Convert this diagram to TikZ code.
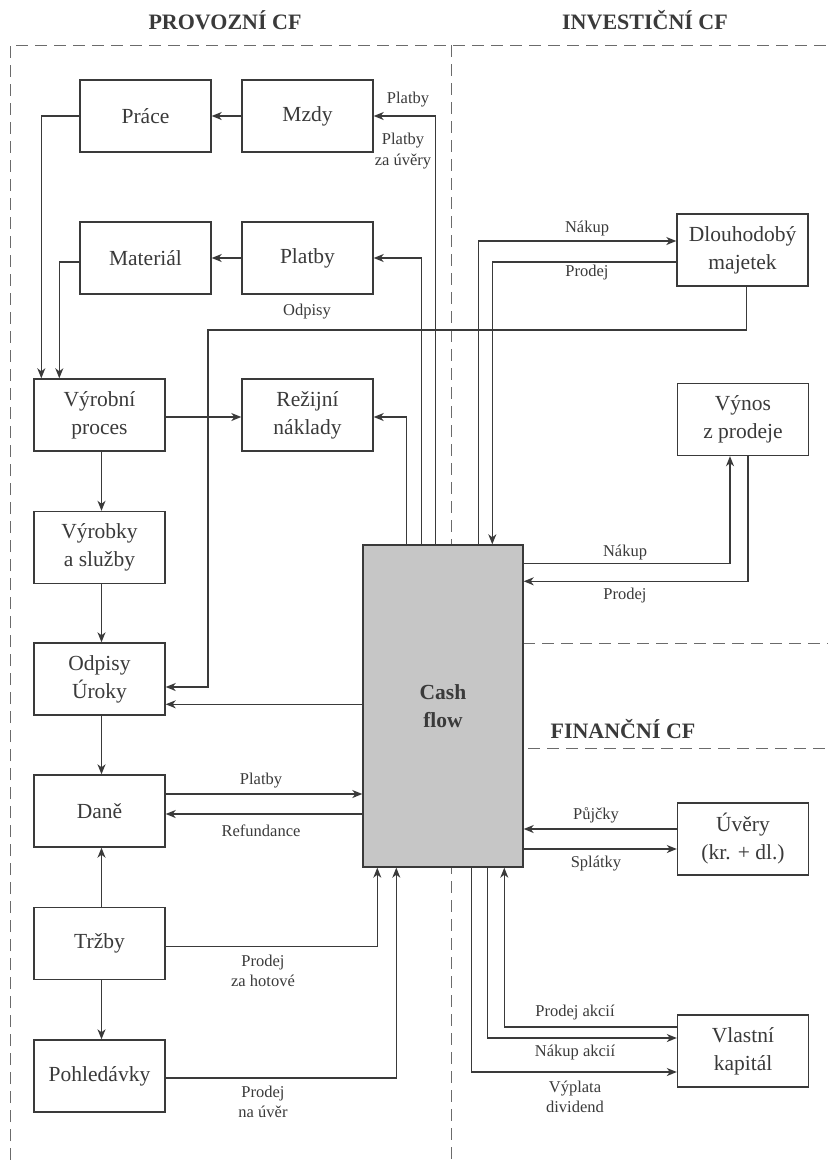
\documentclass[tikz,border=0pt]{standalone}
\usepackage{fontspec}
\setmainfont{Liberation Serif}
\usetikzlibrary{arrows.meta,calc}
\definecolor{ink}{HTML}{3A3A3A}
\definecolor{cashgray}{HTML}{C6C6C6}
\begin{document}
\begin{tikzpicture}[x=1bp,y=-1bp,
  box/.style={draw=ink, line width=1.4bp, minimum width=131bp, minimum height=72bp, inner sep=0pt, align=center, text=ink, font=\fontsize{21.5bp}{28bp}\selectfont},
  lbl/.style={text=ink, align=center, inner sep=0pt, font=\fontsize{16.5bp}{20.5bp}\selectfont},
  hdr/.style={text=ink, inner sep=0pt, font=\fontsize{22bp}{26bp}\selectfont\bfseries},
  arr/.style={draw=ink, line width=1.2bp, -{Stealth[length=10bp,width=8bp,inset=3bp]}},
  zone/.style={draw=ink!75, line width=1bp, dash pattern=on 12bp off 7bp}]
\useasboundingbox[fill=white] (0,0) rectangle (828,1160);

% zone borders
\draw[zone] (10,1160) -- (10,45) -- (828,45);
\draw[zone] (451,45) -- (451,1160);
\draw[zone] (523,643) -- (828,643);
\draw[zone] (528,748) -- (828,748);

% headers
\node[hdr] (hprov) at (225,20) {PROVOZNÍ CF};
\node[hdr] (hinv) at (645,20) {INVESTIČNÍ CF};
\node[hdr] (hfin) at (623,729) {FINANČNÍ CF};

% boxes
\node[box] (prace) at (145.5,116) {Práce};
\node[box] (mzdy) at (307.5,116) {Mzdy};
\node[box] (material) at (145.5,258) {Materiál};
\node[box] (platbyb) at (307.5,258) {Platby};
\node[box] (dlouh) at (742.5,250) {Dlouhodobý\\majetek};
\node[box] (vyrobni) at (99.5,415) {Výrobní\\proces};
\node[box] (rezijni) at (307.5,415) {Režijní\\náklady};
\node[box] (vynos) at (743,419.5) {Výnos\\z prodeje};
\node[box] (vyrobky) at (99.5,547.5) {Výrobky\\a služby};
\node[box] (odpisy) at (99.5,679) {Odpisy\\Úroky};
\node[box] (dane) at (99.5,811) {Daně};
\node[box] (trzby) at (99.5,943.5) {Tržby};
\node[box] (pohl) at (99.5,1076) {Pohledávky};
\node[box] (uvery) at (743,839) {Úvěry\\(kr. + dl.)};
\node[box] (vlastni) at (743,1051) {Vlastní\\kapitál};
\node[box, fill=cashgray, minimum width=160bp, minimum height=322bp, font=\fontsize{21.5bp}{28bp}\selectfont\bfseries] (cash) at (443,706) {Cash\\flow};

% operating connectors
\draw[arr] (mzdy.west) -- (prace.east);
\draw[arr] (prace.west) -| ($(vyrobni.north west)+(8,0)$);
\draw[arr] (platbyb.west) -- (material.east);
\draw[arr] ($(material.west)+(0,4)$) -| ($(vyrobni.north west)+(26,0)$);
\draw[arr] ($(cash.north west)+(73,0)$) |- (mzdy.east);
\draw[arr] ($(cash.north west)+(59,0)$) |- (platbyb.east);
\draw[arr] ($(cash.north west)+(44,0)$) |- ($(rezijni.east)+(0,2)$);
\draw[arr] ($(vyrobni.east)+(0,2)$) -- ($(rezijni.west)+(0,2)$);
\draw[arr] ($(dlouh.south)+(4,0)$) |- (208,330) |- ($(odpisy.east)+(0,8)$);
\draw[arr] ($(cash.north west)+(0,160)$) coordinate (t1) -- (t1 -| odpisy.east);
\draw[arr] ($(vyrobni.south)+(2,0)$) -- ($(vyrobky.north)+(2,0)$);
\draw[arr] ($(vyrobky.south)+(2,0)$) -- ($(odpisy.north)+(2,0)$);
\draw[arr] ($(odpisy.south)+(2,0)$) -- ($(dane.north)+(2,0)$);
\draw[arr] ($(dane.east)+(0,-17)$) coordinate (t2) -- (t2 -| cash.west);
\coordinate (t3) at ($(dane.east)+(0,3)$);
\draw[arr] (t3 -| cash.west) -- (t3);
\draw[arr] ($(trzby.north)+(2,0)$) -- ($(dane.south)+(2,0)$);
\draw[arr] ($(trzby.south)+(2,0)$) -- ($(pohl.north)+(2,0)$);
\draw[arr] ($(trzby.east)+(0,3)$) -| ($(cash.south west)+(15,0)$);
\draw[arr] ($(pohl.east)+(0,2)$) -| ($(cash.south west)+(34,0)$);

% investing connectors
\draw[arr] ($(cash.north west)+(116,0)$) |- ($(dlouh.west)+(0,-9)$);
\draw[arr] ($(dlouh.west)+(0,12)$) -| ($(cash.north west)+(130,0)$);
\draw[arr] ($(cash.north east)+(0,19)$) -| ($(vynos.south)+(-13,0)$);
\draw[arr] ($(vynos.south)+(5,0)$) |- ($(cash.north east)+(0,37)$);

% financing connectors
\draw[arr] ($(uvery.west)+(0,-10)$) coordinate (t4) -- (t4 -| cash.east);
\coordinate (t5) at ($(uvery.west)+(0,10)$);
\draw[arr] (t5 -| cash.east) -- (t5);
\draw[arr] ($(vlastni.west)+(0,-24)$) -| ($(cash.south west)+(142,0)$);
\draw[arr] ($(cash.south west)+(125,0)$) |- ($(vlastni.west)+(0,-13)$);
\draw[arr] ($(cash.south west)+(109,0)$) |- ($(vlastni.west)+(0,21)$);

% labels
\node[lbl] (l1) at (408,100) {Platby};
\node[lbl] (l2) at (403,151) {Platby\\za úvěry};
\node[lbl] (l3) at (307,312) {Odpisy};
\node[lbl] (l4) at (587,229) {Nákup};
\node[lbl] (l5) at (587,273) {Prodej};
\node[lbl] (l6) at (625,553) {Nákup};
\node[lbl] (l7) at (625,596) {Prodej};
\node[lbl] (l8) at (261,781) {Platby};
\node[lbl] (l9) at (261,831) {Refundance};
\node[lbl] (l10) at (263,971) {Prodej\\za hotové};
\node[lbl] (l11) at (263,1102) {Prodej\\na úvěr};
\node[lbl] (l12) at (596,815) {Půjčky};
\node[lbl] (l13) at (596,864) {Splátky};
\node[lbl] (l14) at (575,1013) {Prodej akcií};
\node[lbl] (l15) at (575,1053) {Nákup akcií};
\node[lbl] (l16) at (575,1097) {Výplata\\dividend};
\end{tikzpicture}
\end{document}
